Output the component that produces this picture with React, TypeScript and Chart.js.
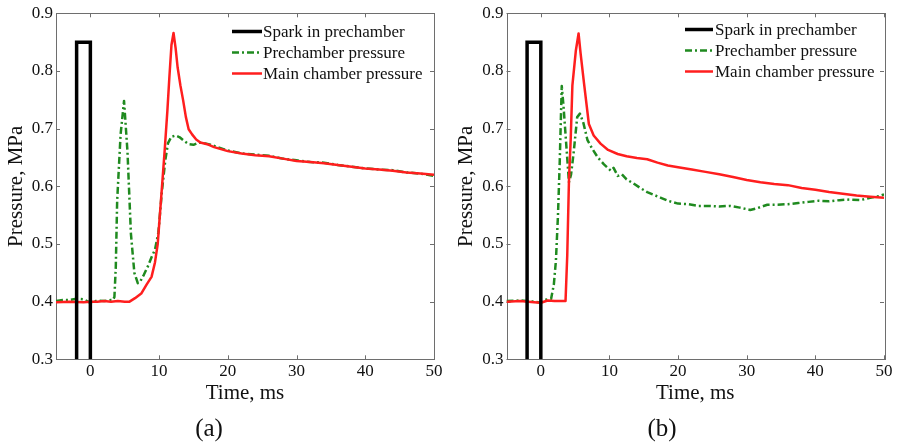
import React, { useEffect, useRef } from 'react';
import { Chart, registerables } from 'chart.js';

Chart.register(...registerables);

// ---------- data ----------
const SERIES_LABELS = ['Spark in prechamber', 'Prechamber pressure', 'Main chamber pressure'];
const PANEL_CAPTIONS = ['(a)', '(b)'];
const X_TITLE = 'Time, ms';
const Y_TITLE = 'Pressure, MPa';
const X_MIN = -5;
const X_MAX = 50;
const Y_MIN = 0.3;
const Y_MAX = 0.9;
const X_TICKS = [0, 10, 20, 30, 40, 50];
const Y_TICKS = [0.3, 0.4, 0.5, 0.6, 0.7, 0.8, 0.9];

const SPARK_T = [-2, -2, 0, 0];
const SPARK_P = [0.3, 0.85, 0.85, 0.3];

// panel (a)
const A_PRE_T = [-5, -4, -3, -2, -1, 0, 1, 2, 3, 3.3, 3.5, 3.7, 3.9, 4.4, 4.9, 5.4, 5.9, 6.4, 6.9, 7.3, 7.8, 8.4, 8.9, 9.4, 9.9, 10.4, 10.9, 11.3, 11.8, 12.4, 13.0, 13.6, 14.3, 15.0, 15.8, 16.5, 17.5, 18.5, 20, 22, 24, 26, 28, 30, 32, 34, 36, 38, 40, 42, 44, 46, 48, 50];
const A_PRE_P = [0.401, 0.403, 0.403, 0.405, 0.404, 0.398, 0.402, 0.401, 0.403, 0.403, 0.408, 0.46, 0.575, 0.69, 0.748, 0.66, 0.518, 0.45, 0.432, 0.436, 0.447, 0.462, 0.477, 0.49, 0.52, 0.59, 0.645, 0.675, 0.686, 0.688, 0.685, 0.679, 0.673, 0.672, 0.676, 0.675, 0.672, 0.668, 0.662, 0.657, 0.655, 0.653, 0.648, 0.645, 0.642, 0.641, 0.637, 0.634, 0.631, 0.629, 0.628, 0.624, 0.622, 0.618];
const A_MAIN_T = [-5, -3, -1, 0, 1, 2, 3, 4, 5, 5.7, 6.5, 7.4, 8.2, 8.9, 9.4, 9.8, 10.3, 10.8, 11.2, 11.5, 11.8, 12.1, 12.4, 12.7, 13.1, 13.5, 13.9, 14.3, 14.8, 15.4, 16, 17, 18, 20, 22, 24, 26, 28, 30, 32, 34, 36, 38, 40, 42, 44, 46, 48, 50];
const A_MAIN_P = [0.399, 0.4, 0.399, 0.4, 0.4, 0.401, 0.4, 0.401, 0.4, 0.4, 0.406, 0.414, 0.43, 0.443, 0.468, 0.5, 0.58, 0.66, 0.73, 0.79, 0.845, 0.866, 0.84, 0.806, 0.775, 0.749, 0.72, 0.699, 0.69, 0.681, 0.676, 0.673, 0.668, 0.661, 0.657, 0.654, 0.652, 0.648, 0.644, 0.642, 0.64, 0.637, 0.634, 0.631, 0.629, 0.627, 0.624, 0.622, 0.62];

// panel (b)
const B_PRE_T = [-5, -3, -1, 0, 0.5, 1, 1.5, 1.9, 2.2, 2.5, 2.75, 3.05, 3.3, 3.6, 3.9, 4.1, 4.4, 4.8, 5.3, 5.7, 6.2, 6.8, 7.5, 8.3, 9.2, 10.2, 10.6, 11.2, 11.8, 12.5, 13.5, 14.5, 15.5, 16.5, 17.5, 18.5, 20, 21.5, 23, 24.5, 26, 27.5, 29, 30.5, 31.5, 33, 34.5, 36, 37.5, 39, 40.5, 42, 43.5, 45, 46.5, 48, 49.3, 50];
const B_PRE_P = [0.401, 0.402, 0.4, 0.398, 0.403, 0.404, 0.405, 0.43, 0.471, 0.55, 0.64, 0.774, 0.74, 0.69, 0.64, 0.607, 0.62, 0.66, 0.72, 0.726, 0.71, 0.68, 0.665, 0.65, 0.638, 0.627, 0.632, 0.618, 0.621, 0.612, 0.605, 0.597, 0.59, 0.585, 0.58, 0.575, 0.57, 0.569, 0.566, 0.566, 0.565, 0.566, 0.563, 0.559, 0.562, 0.568, 0.568, 0.569, 0.571, 0.573, 0.575, 0.574, 0.576, 0.577, 0.576, 0.58, 0.583, 0.586];
const B_MAIN_T = [-5, -3, -1, 0, 1, 2, 3, 3.6, 3.85, 4.1, 4.35, 4.6, 5.1, 5.5, 5.8, 6.3, 7.0, 7.7, 8.7, 9.8, 11.2, 12.5, 14, 15.5, 17, 18.5, 20, 22, 24, 26, 28, 30, 32, 34, 36, 38, 40, 42, 44, 46, 48, 50];
const B_MAIN_P = [0.4, 0.401, 0.399, 0.398, 0.402, 0.401, 0.401, 0.401, 0.48, 0.61, 0.68, 0.775, 0.835, 0.865, 0.83, 0.778, 0.708, 0.688, 0.674, 0.663, 0.656, 0.652, 0.649, 0.647, 0.641, 0.636, 0.633, 0.629, 0.625, 0.621, 0.616, 0.611, 0.607, 0.604, 0.602, 0.597, 0.594, 0.59, 0.587, 0.584, 0.582, 0.58];

// ---------- styling ----------
const FONT = '"Liberation Serif", "Times New Roman", serif';
const AXIS_COLOR = '#6e6e6e';
const TEXT_COLOR = '#111111';
const SPARK_COLOR = '#000000';
const PRE_COLOR = '#1f8a1f';
const MAIN_COLOR = '#ff1e1e';
const PRE_DASH = [7, 3, 2, 3];

const toPoints = (t: number[], p: number[]) => t.map((x, i) => ({ x, y: p[i] }));

const framePlugin = {
  id: 'matlabFrame',
  beforeDatasetsDraw(chart: any) {
    const { ctx, chartArea, scales } = chart;
    const { left, right, top, bottom } = chartArea;
    const tl = 4;
    ctx.save();
    ctx.strokeStyle = AXIS_COLOR;
    ctx.lineWidth = 1;
    ctx.strokeRect(Math.round(left) + 0.5, Math.round(top) + 0.5, Math.round(right - left), Math.round(bottom - top));
    ctx.beginPath();
    for (const v of X_TICKS) {
      const px = Math.round(scales.x.getPixelForValue(v)) + 0.5;
      ctx.moveTo(px, bottom);
      ctx.lineTo(px, bottom - tl);
      ctx.moveTo(px, top);
      ctx.lineTo(px, top + tl);
    }
    for (const v of Y_TICKS) {
      const py = Math.round(scales.y.getPixelForValue(v)) + 0.5;
      ctx.moveTo(left, py);
      ctx.lineTo(left + tl, py);
      ctx.moveTo(right, py);
      ctx.lineTo(right - tl, py);
    }
    ctx.stroke();
    ctx.restore();
  },
};

const insetLegendPlugin = {
  id: 'insetLegend',
  afterDraw(chart: any, _args: any, opts: any) {
    const { ctx, chartArea } = chart;
    const x0 = chartArea.right - opts.sampleFromRight;
    const x1 = x0 + opts.sampleLength;
    const tx = chartArea.right - opts.textFromRight;
    ctx.save();
    ctx.font = `17px ${FONT}`;
    ctx.textBaseline = 'middle';
    ctx.textAlign = 'left';
    chart.data.datasets.forEach((ds: any, i: number) => {
      const y = opts.top + i * opts.rowGap;
      ctx.strokeStyle = ds.borderColor;
      ctx.lineWidth = ds.borderWidth;
      ctx.setLineDash(ds.borderDash || []);
      ctx.beginPath();
      ctx.moveTo(x0, y);
      ctx.lineTo(x1, y);
      ctx.stroke();
      ctx.setLineDash([]);
      ctx.fillStyle = TEXT_COLOR;
      ctx.fillText(ds.label, tx, y + 1);
    });
    ctx.restore();
  },
};

type PanelProps = {
  caption: string;
  preT: number[];
  preP: number[];
  mainT: number[];
  mainP: number[];
  width: number;
  yAxisWidth: number;
  yTitlePad: number;
  legend: { sampleFromRight: number; sampleLength: number; textFromRight: number; top: number; rowGap: number };
};

function Panel(props: PanelProps) {
  const ref = useRef<HTMLCanvasElement | null>(null);
  useEffect(() => {
    if (!ref.current) return;
    const chart = new Chart(ref.current, {
      type: 'line',
      data: {
        datasets: [
          {
            label: SERIES_LABELS[0],
            data: toPoints(SPARK_T, SPARK_P),
            borderColor: SPARK_COLOR,
            borderWidth: 3.5,
            pointRadius: 0,
            tension: 0,
            order: 0,
            borderJoinStyle: 'miter',
          },
          {
            label: SERIES_LABELS[1],
            data: toPoints(props.preT, props.preP),
            borderColor: PRE_COLOR,
            borderWidth: 2.5,
            borderDash: PRE_DASH,
            borderJoinStyle: 'round',
            pointRadius: 0,
            tension: 0,
            order: 2,
          },
          {
            label: SERIES_LABELS[2],
            data: toPoints(props.mainT, props.mainP),
            borderColor: MAIN_COLOR,
            borderWidth: 2.5,
            borderJoinStyle: 'round',
            pointRadius: 0,
            tension: 0,
            order: 1,
          },
        ],
      },
      options: {
        responsive: false,
        animation: false,
        events: [],
        layout: { padding: { left: 0, right: 12, top: 13.3, bottom: 0 } },
        plugins: {
          legend: { display: false },
          tooltip: { enabled: false },
          title: {
            display: true,
            text: props.caption,
            position: 'bottom',
            color: TEXT_COLOR,
            font: { family: FONT, size: 25, weight: 'normal' },
            padding: { top: 0, bottom: 1 },
          },
          insetLegend: props.legend,
        } as any,
        scales: {
          x: {
            type: 'linear',
            min: X_MIN,
            max: X_MAX,
            afterBuildTicks: (s: any) => {
              s.ticks = X_TICKS.map((v) => ({ value: v }));
            },
            afterFit: (s: any) => {
              s.height = 54.7;
            },
            grid: { display: false, drawTicks: false },
            border: { display: false },
            ticks: {
              color: TEXT_COLOR,
              font: { family: FONT, size: 17 },
              padding: 2,
              maxRotation: 0,
              callback: (v: any) => String(v),
            },
            title: {
              display: true,
              text: X_TITLE,
              color: TEXT_COLOR,
              font: { family: FONT, size: 21 },
              padding: { top: 0, bottom: 8.4 },
            },
          },
          y: {
            type: 'linear',
            min: Y_MIN,
            max: Y_MAX,
            afterBuildTicks: (s: any) => {
              s.ticks = Y_TICKS.map((v) => ({ value: v }));
            },
            afterFit: (s: any) => {
              s.width = props.yAxisWidth;
            },
            grid: { display: false, drawTicks: false },
            border: { display: false },
            ticks: {
              color: TEXT_COLOR,
              font: { family: FONT, size: 17 },
              padding: 3,
              callback: (v: any) => Number(v).toFixed(1),
            },
            title: {
              display: true,
              text: Y_TITLE,
              color: TEXT_COLOR,
              font: { family: FONT, size: 21 },
              padding: { top: props.yTitlePad, bottom: 0 },
            },
          },
        },
      },
      plugins: [framePlugin, insetLegendPlugin],
    } as any);
    return () => chart.destroy();
  }, []);
  return <canvas ref={ref} width={props.width} height={445} style={{ display: 'block' }} />;
}

export default function App() {
  return (
    <div style={{ position: 'absolute', left: 0, top: 0, width: 899, height: 445, overflow: 'hidden', background: '#fff' }}>
      <div style={{ position: 'absolute', left: -16, top: 0 }}>
        <Panel
          caption={PANEL_CAPTIONS[0]}
          preT={A_PRE_T}
          preP={A_PRE_P}
          mainT={A_MAIN_T}
          mainP={A_MAIN_P}
          width={462}
          yAxisWidth={72}
          yTitlePad={20}
          legend={{ sampleFromRight: 202, sampleLength: 30, textFromRight: 171, top: 31.5, rowGap: 21 }}
        />
      </div>
      <div style={{ position: 'absolute', left: 440, top: 0 }}>
        <Panel
          caption={PANEL_CAPTIONS[1]}
          preT={B_PRE_T}
          preP={B_PRE_P}
          mainT={B_MAIN_T}
          mainP={B_MAIN_P}
          width={456}
          yAxisWidth={66.5}
          yTitlePad={14}
          legend={{ sampleFromRight: 199, sampleLength: 28, textFromRight: 169, top: 29.5, rowGap: 21 }}
        />
      </div>
    </div>
  );
}
